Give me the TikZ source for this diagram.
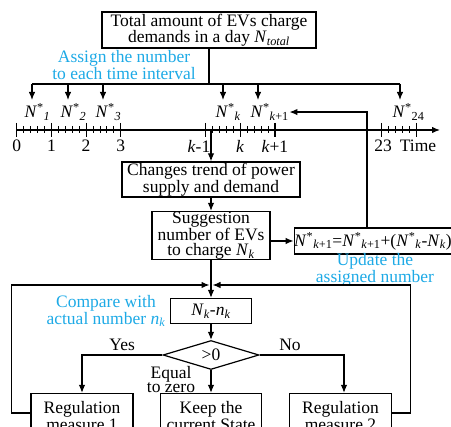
\documentclass[tikz,border=0pt]{standalone}
\usepackage{fontspec}
\setmainfont{Liberation Serif}
\usetikzlibrary{shapes.geometric, arrows.meta}
\definecolor{tianlan}{RGB}{30,170,230}
\tikzset{every node/.style={font=\fontsize{17.5}{16.5}\selectfont}}
\tikzset{
    kuang/.style={draw, align=center, inner sep=1pt},
    lanzi/.style={text=tianlan, align=center, font=\fontsize{17.5}{13}\selectfont},
    nlab/.style={anchor=north west, inner sep=0pt},
    jt/.style={-{Latex[length=8pt,width=6.5pt]}},
}
\newcommand{\Ns}[1]{\textit{N}\textsuperscript{*}\textsubscript{#1}}

\begin{document}
\begin{tikzpicture}[x=1pt, y=-1pt, line width=1.2pt]
    \useasboundingbox (0,0) rectangle (451,427);
    \clip (0,0) rectangle (451,427);
    \node[kuang, minimum width=214, minimum height=36] (total) at (209,30) {Total amount of EVs charge\\demands in a day \textit{N}\textsubscript{\textit{total}}};
    \node[lanzi] (assign) at (124,65) {Assign the number\\to each time interval};
    \coordinate (bus) at (209,84);
    \draw (total.south) -- (bus);
    \foreach \nm/\xx/\sub in {n1/32/\textit{1}, n2/68/\textit{2}, n3/103/\textit{3}, nk/223/\textit{k}, nka/258/{\textit{k}+1}, n24/400/24}{
        \coordinate (\nm) at (\xx,100);
        \node[nlab] (l\nm) at ([xshift=-8pt,yshift=-3pt]\nm) {\Ns{\sub}};
        \draw[jt] (\nm |- bus) -- (\nm);
    }
    \draw (n1 |- bus) -- (n24 |- bus);
    % time axis
    \coordinate (t0) at (16.7,130);
    \coordinate (tend) at (440,130);
    \draw[jt] (t0) -- (tend);
    \foreach \s/\n in {16.7/3, 205.5/2, 381.7/1}{
        \pgfmathtruncatemacro\nt{5*\n}
        \foreach \m in {1,...,\nt} \draw[line width=0.9pt] (\s+\m*6.94,126.5) -- (\s+\m*6.94,133.5);
        \foreach \i in {0,...,\n} \draw (\s+\i*34.7,123) -- (\s+\i*34.7,137);
    }
    \foreach \x/\t [count=\i] in {16.7/0, 51.4/1, 86.1/2, 120.8/3, 199/{\textit{k}-1}, 240.2/\textit{k}, 274.9/{\textit{k}+1}, 383/23, 418/Time}{
        \node (tl\i) at (\x,146) {\t};
    }
    % flow
    \coordinate (kk) at (211,130);
    \node[kuang, minimum width=178, minimum height=35] (trend) at (211,179.5) {Changes trend of power\\supply and demand};
    \draw[jt] (kk) -- (trend.north);
    \node[kuang, inner sep=0pt, minimum width=118, minimum height=43, font=\fontsize{17.5}{15.5}\selectfont] (sugg) at (211,235.5) {Suggestion\\number of EVs\\to charge \textit{N}\textsubscript{\textit{k}}};
    \draw[jt] (trend) -- (sugg);
    \node[kuang, inner sep=0pt, minimum width=154, minimum height=26] (upd) at (373,241) {\Ns{\textit{k}+1}=\Ns{\textit{k}+1}+(\Ns{\textit{k}}-\textit{N}\textsubscript{\textit{k}})};
    \draw[jt] (sugg.east |- upd) -- (upd.west);
    \draw[jt] ([xshift=-6pt]upd.north) |- (lnka.east);
    \node[lanzi] (updl) at (375,270) {Update the\\assigned number};
    \coordinate (jn) at (211,285);
    \draw (sugg) -- (jn);
    \node[kuang, minimum width=81, minimum height=25] (diff) at (211,311) {\textit{N}\textsubscript{\textit{k}}-\textit{n}\textsubscript{\textit{k}}};
    \draw[jt] (jn) -- (diff);
    \node[lanzi] (cmp) at (106,311) {Compare with\\actual number \textit{n}\textsubscript{\textit{k}}};
    \node[draw, diamond, aspect=3.3, inner sep=0pt, minimum width=96, minimum height=29] (dia) at (211,355) {>0};
    \draw[jt] (diff) -- (dia);
    \node[kuang, minimum width=102, minimum height=45] (reg1) at (82,416) {Regulation\\measure 1};
    \node[kuang, minimum width=101, minimum height=45] (keep) at (211,416) {Keep the\\current State};
    \node[kuang, minimum width=102, minimum height=45] (reg2) at (340.5,416) {Regulation\\measure 2};
    \draw[jt] (dia.west) -| (reg1.north) node[pos=.25, above] (yes) {Yes};
    \draw[jt] (dia.east) -| ([xshift=3.5pt]reg2.north) node[pos=.18, above] (no) {No};
    \draw[jt] (dia) -- (keep);
    \node[align=center, font=\fontsize{17.5}{14}\selectfont] (eq) at (171,380) {Equal\\to zero};
    % feedback
    \draw[jt] ([yshift=3pt]reg1.west) -- ++(-19,0) |- ([xshift=-1.5pt]jn);
    \draw[jt] ([yshift=3pt]reg2.east) -- ++(18.5,0) |- ([xshift=1.5pt]jn);
\end{tikzpicture}
\end{document}
